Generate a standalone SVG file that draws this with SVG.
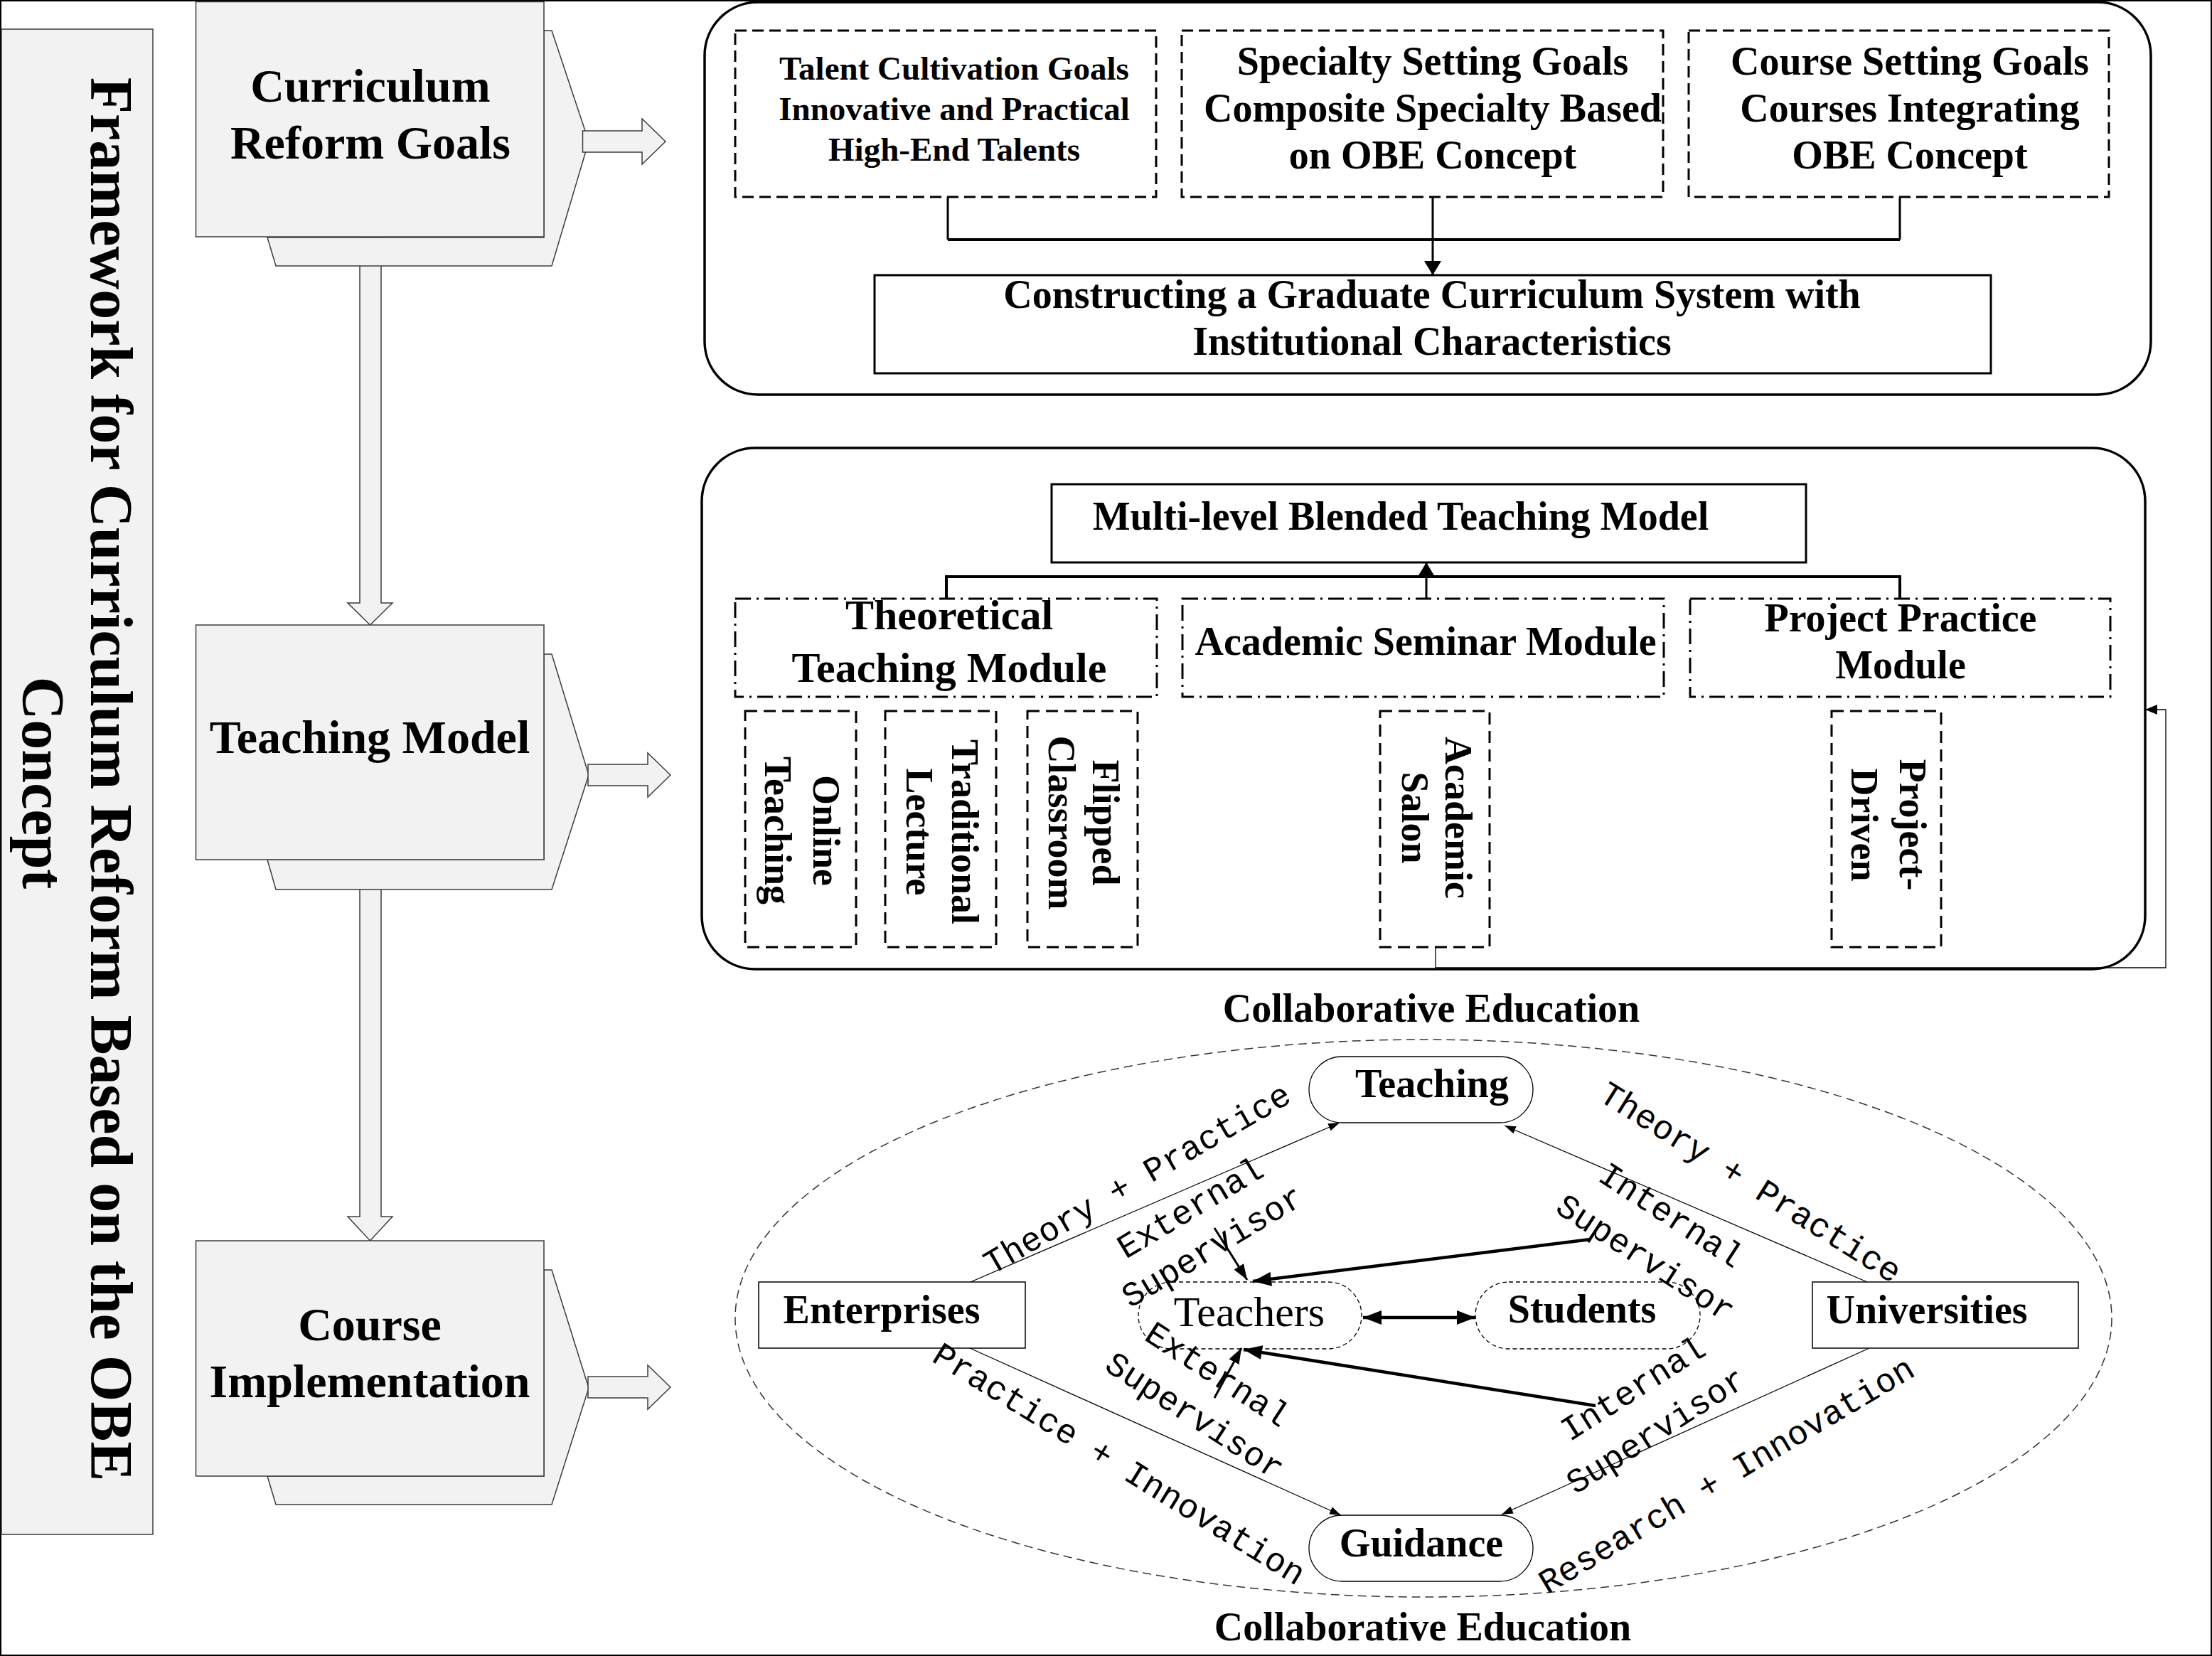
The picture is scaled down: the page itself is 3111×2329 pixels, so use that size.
<svg xmlns="http://www.w3.org/2000/svg" width="3111" height="2329" viewBox="0 0 3111 2329">
<style>
.main{fill:#f2f2f2;stroke:#3c3c3c;stroke-width:1.5}
.bt{font-family:"Liberation Serif","Times New Roman",serif;font-weight:bold;text-anchor:middle;fill:#000}
.rt{font-family:"Liberation Serif","Times New Roman",serif;font-weight:normal;text-anchor:middle;fill:#000}
.mono{font-family:"Liberation Mono","Courier New",monospace;font-size:48px;text-anchor:middle;fill:#000}
.cont{fill:none;stroke:#000;stroke-width:3.5}
.dash{fill:#fff;stroke:#000;stroke-width:3;stroke-dasharray:16 8}
.dashv{fill:#fff;stroke:#000;stroke-width:3;stroke-dasharray:17 9}
.dashdot{fill:#fff;stroke:#000;stroke-width:3;stroke-dasharray:22 8 3 8}
.solid{fill:#fff;stroke:#000;stroke-width:3}
.ln{fill:none;stroke:#000;stroke-width:3}
.thin{fill:none;stroke:#000;stroke-width:1.3}
.thick{fill:none;stroke:#000;stroke-width:4.5}
.pill{fill:#fff;stroke:#000;stroke-width:1.3}
.pilld{fill:#fff;stroke:#000;stroke-width:1.3;stroke-dasharray:6 4}
.node{fill:#fff;stroke:#000;stroke-width:1.5}
</style>
<defs>
<marker id="ahTop" viewBox="0 0 20 24" refX="20" refY="12" markerWidth="20" markerHeight="24" markerUnits="userSpaceOnUse" orient="auto"><path d="M0,0 L20,12 L0,24 Z" fill="#000"/></marker>
<marker id="ahSm" viewBox="0 0 17 14" refX="17" refY="7" markerWidth="17" markerHeight="14" markerUnits="userSpaceOnUse" orient="auto"><path d="M0,0 L17,7 L0,14 Z" fill="#000"/></marker>
<marker id="ahThin" viewBox="0 0 16 11" refX="16" refY="5.5" markerWidth="16" markerHeight="11" markerUnits="userSpaceOnUse" orient="auto"><path d="M0,0 L16,5.5 L0,11 Z" fill="#000"/></marker>
<marker id="ahBig" viewBox="0 0 26 20" refX="26" refY="10" markerWidth="26" markerHeight="20" markerUnits="userSpaceOnUse" orient="auto"><path d="M0,0 L26,10 L0,20 Z" fill="#000"/></marker>
<marker id="ahBigS" viewBox="0 0 26 20" refX="0" refY="10" markerWidth="26" markerHeight="20" markerUnits="userSpaceOnUse" orient="auto"><path d="M26,0 L0,10 L26,20 Z" fill="#000"/></marker>
<marker id="ahMid" viewBox="0 0 22 16" refX="22" refY="8" markerWidth="22" markerHeight="16" markerUnits="userSpaceOnUse" orient="auto"><path d="M0,0 L22,8 L0,16 Z" fill="#000"/></marker>
</defs>

<rect x="1" y="1" width="3109" height="2327" fill="#fff" stroke="#000" stroke-width="2"/>

<g id="title-column">
<rect x="2" y="41" width="213" height="2117" class="main"/>
<text class="bt" font-size="84" transform="translate(128,1096) rotate(90)">Framework for Curriculum Reform Based on the OBE</text>
<text class="bt" font-size="84" transform="translate(32,1101) rotate(90)">Concept</text>
</g>

<g id="flow-arrows">
<path class="main" d="M506,333 V848 H489 L520.5,879 L552,848 H536 V333 Z"/>
<path class="main" d="M506,1209 V1711 H489 L520.5,1745 L552,1711 H536 V1209 Z"/>
</g>

<g id="box-goals">
<polygon class="main" points="376,334 388,374 776,374 828,199 776,43 765,43 765,334"/>
<rect x="275.5" y="2.5" width="489.5" height="330.5" class="main"/>
<path class="main" d="M819.5,184 H903 V167 L936,199 L903,231 V214 H819.5 Z"/>
<text class="bt" font-size="66" x="521" y="143">Curriculum</text>
<text class="bt" font-size="66" x="521" y="223">Reform Goals</text>
</g>

<g id="box-teaching-model">
<polygon class="main" points="376,1209 388,1251 776,1251 828,1090 776,920 765,920 765,1209"/>
<rect x="275.5" y="879" width="489.5" height="330" class="main"/>
<path class="main" d="M827,1075 H911 V1059 L943,1090 L911,1121 V1105 H827 Z"/>
<text class="bt" font-size="66" x="520" y="1059">Teaching Model</text>
</g>

<g id="box-course-impl">
<polygon class="main" points="376,2076 388,2116 776,2116 828,1952 776,1786 765,1786 765,2076"/>
<rect x="275.5" y="1745" width="489.5" height="331" class="main"/>
<path class="main" d="M827,1936 H911 V1920 L943,1951 L911,1982 V1966 H827 Z"/>
<text class="bt" font-size="66" x="520" y="1885">Course</text>
<text class="bt" font-size="66" x="520" y="1965">Implementation</text>
</g>

<g id="goals-panel">
<rect x="991" y="3" width="2034" height="552" rx="75" ry="75" class="cont"/>
</g>
<g id="goal-talent">
<rect x="1034" y="43" width="592" height="234" class="dash"/>
<text class="bt" font-size="47" x="1342" y="112">Talent Cultivation Goals</text>
<text class="bt" font-size="47" x="1342" y="169">Innovative and Practical</text>
<text class="bt" font-size="47" x="1342" y="226">High-End Talents</text>
</g>
<g id="goal-specialty">
<rect x="1662" y="43" width="677" height="234" class="dash"/>
<text class="bt" font-size="56" x="2015" y="105">Specialty Setting Goals</text>
<text class="bt" font-size="56" x="2015" y="171">Composite Specialty Based</text>
<text class="bt" font-size="56" x="2015" y="237">on OBE Concept</text>
</g>
<g id="goal-course">
<rect x="2375" y="43" width="591" height="234" class="dash"/>
<text class="bt" font-size="56" x="2686" y="105">Course Setting Goals</text>
<text class="bt" font-size="56" x="2686" y="171">Courses Integrating</text>
<text class="bt" font-size="56" x="2686" y="237">OBE Concept</text>
</g>
<g id="goal-system">
<rect x="1230" y="387" width="1570" height="138" class="solid"/>
<text class="bt" font-size="56" x="2014" y="433">Constructing a Graduate Curriculum System with</text>
<text class="bt" font-size="56" x="2014" y="499">Institutional Characteristics</text>
</g>

<g id="model-panel">
<rect x="987" y="630" width="2030" height="733" rx="75" ry="75" class="cont"/>
</g>
<g id="model-title">
<rect x="1479" y="681" width="1061" height="110" class="solid"/>
<text class="bt" font-size="56" x="1970" y="745">Multi-level Blended Teaching Model</text>
</g>
<g id="module-theory">
<rect x="1034" y="842" width="593" height="138" class="dashdot"/>
<text class="bt" font-size="60" x="1335" y="885">Theoretical</text>
<text class="bt" font-size="60" x="1335" y="959">Teaching Module</text>
</g>
<g id="module-seminar">
<rect x="1663" y="842" width="677" height="138" class="dashdot"/>
<text class="bt" font-size="56" x="2005" y="921">Academic Seminar Module</text>
</g>
<g id="module-project">
<rect x="2377" y="842" width="591" height="138" class="dashdot"/>
<text class="bt" font-size="56" x="2673" y="888">Project Practice</text>
<text class="bt" font-size="56" x="2673" y="954">Module</text>
</g>
<g id="sub-online">
<rect x="1048" y="1000" width="156" height="332" class="dashv"/>
<text class="bt" font-size="54" transform="translate(1144,1168) rotate(90)">Online</text>
<text class="bt" font-size="54" transform="translate(1076,1168) rotate(90)">Teaching</text>
</g>
<g id="sub-lecture">
<rect x="1245" y="1000" width="156" height="332" class="dashv"/>
<text class="bt" font-size="54" transform="translate(1339,1170) rotate(90)">Traditional</text>
<text class="bt" font-size="54" transform="translate(1275,1170) rotate(90)">Lecture</text>
</g>
<g id="sub-flipped">
<rect x="1445" y="1000" width="155" height="332" class="dashv"/>
<text class="bt" font-size="54" transform="translate(1537,1157) rotate(90)">Flipped</text>
<text class="bt" font-size="54" transform="translate(1475,1157) rotate(90)">Classroom</text>
</g>
<g id="sub-salon">
<rect x="1941" y="1000" width="154" height="332" class="dashv"/>
<text class="bt" font-size="54" transform="translate(2033,1150) rotate(90)">Academic</text>
<text class="bt" font-size="54" transform="translate(1972,1150) rotate(90)">Salon</text>
</g>
<g id="sub-project">
<rect x="2576" y="1000" width="154" height="332" class="dashv"/>
<text class="bt" font-size="54" transform="translate(2672,1160) rotate(90)">Project-</text>
<text class="bt" font-size="54" transform="translate(2604,1160) rotate(90)">Driven</text>
</g>

<g id="collab-section">
<text class="bt" font-size="56" x="2013" y="1437">Collaborative Education</text>
<ellipse cx="2002" cy="1854" rx="968" ry="392" fill="none" stroke="#333" stroke-width="1.5" stroke-dasharray="12 7"/>
<text class="bt" font-size="56" x="2001" y="2307">Collaborative Education</text>
</g>
<g id="node-teaching">
<rect x="1841" y="1486" width="315" height="93" rx="46.5" ry="46.5" class="pill"/>
<text class="bt" font-size="56" x="2014" y="1543">Teaching</text>
</g>
<g id="node-guidance">
<rect x="1841" y="2131" width="315" height="93" rx="46.5" ry="46.5" class="pill"/>
<text class="bt" font-size="56" x="1999" y="2189">Guidance</text>
</g>
<g id="node-enterprises">
<rect x="1067" y="1803" width="375" height="93" class="node"/>
<text class="bt" font-size="56" x="1240" y="1861">Enterprises</text>
</g>
<g id="node-universities">
<rect x="2549" y="1803" width="374" height="93" class="node"/>
<text class="bt" font-size="56" x="2710" y="1861">Universities</text>
</g>
<g id="node-teachers">
<rect x="1601" y="1803" width="314" height="94" rx="47" ry="47" class="pilld"/>
<text class="rt" font-size="60" x="1757" y="1865">Teachers</text>
</g>
<g id="node-students">
<rect x="2075" y="1803" width="316" height="94" rx="47" ry="47" class="pilld"/>
<text class="bt" font-size="56" x="2225" y="1860">Students</text>
</g>

<g id="connectors">
<path class="ln" d="M1333,277 V337 M2672,277 V337"/>
<path d="M1333,337 H2672" fill="none" stroke="#000" stroke-width="4"/>
<path class="ln" d="M2015,277 V387" marker-end="url(#ahTop)"/>
<path d="M1331,842 V811 H2672 V842" fill="none" stroke="#000" stroke-width="4"/>
<path class="ln" d="M2006,842 V791" stroke-width="2" marker-end="url(#ahTop)"/>
<path class="thin" d="M2019,1332 V1361 H3046 V998 H3017" stroke-width="1.5" marker-end="url(#ahSm)"/>
<path class="thin" d="M1365,1803 L1884,1579" marker-end="url(#ahThin)"/>
<path class="thin" d="M2626,1803 L2116,1583" marker-end="url(#ahThin)"/>
<path class="thin" d="M1364,1896 L1886,2131" marker-end="url(#ahThin)"/>
<path class="thin" d="M2629,1896 L2112,2130" marker-end="url(#ahThin)"/>
<path class="thick" d="M2237,1743 L1762,1802" marker-end="url(#ahBig)"/>
<path class="thick" d="M2244,1977 L1749,1898" marker-end="url(#ahBig)"/>
<path class="ln" d="M1708,1727 L1754,1800" stroke-width="2.2" marker-end="url(#ahMid)"/>
<path class="ln" d="M1708,1966 L1746,1896" stroke-width="2.2" marker-end="url(#ahMid)"/>
<path class="thick" d="M1917,1853 H2075" marker-start="url(#ahBigS)" marker-end="url(#ahBig)"/>
</g>

<g id="edge-labels">
<text class="mono" transform="translate(1607,1671) rotate(-30)">Theory + Practice</text>
<text class="mono" transform="translate(2454,1676) rotate(32)">Theory + Practice</text>
<text class="mono" transform="translate(1566,2072) rotate(31.6)">Practice + Innovation</text>
<text class="mono" transform="translate(2436,2088) rotate(-30.7)">Research + Innovation</text>
<text class="mono" transform="translate(1682,1712) rotate(-31)">External</text>
<text class="mono" transform="translate(1713,1766) rotate(-31)">Supervisor</text>
<text class="mono" transform="translate(2342,1722) rotate(33)">Internal</text>
<text class="mono" transform="translate(2306,1782) rotate(33)">Supervisor</text>
<text class="mono" transform="translate(1704,1946) rotate(33)">External</text>
<text class="mono" transform="translate(1672,2004) rotate(33)">Supervisor</text>
<text class="mono" transform="translate(2305,1966) rotate(-32.5)">Internal</text>
<text class="mono" transform="translate(2337,2025) rotate(-32.5)">Supervisor</text>
</g>
</svg>
